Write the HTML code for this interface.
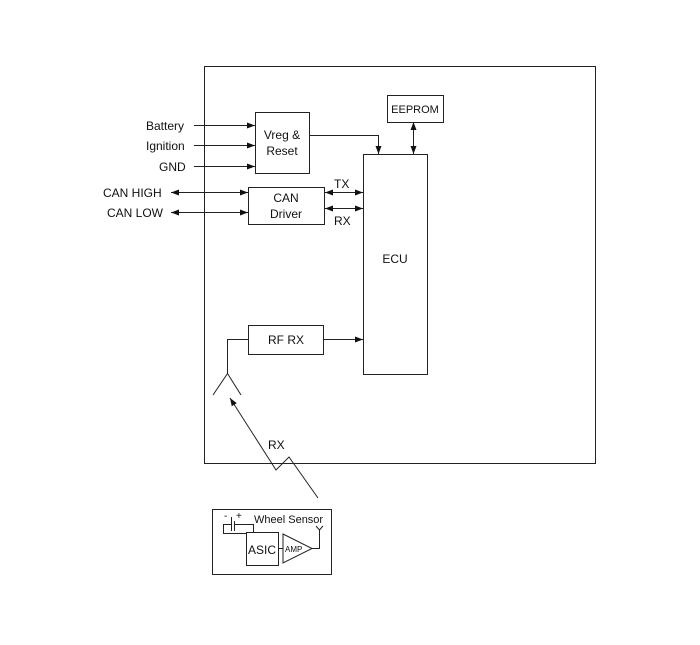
<!DOCTYPE html>
<html><head><style>body{margin:0;background:#fff}svg text{font-family:"Liberation Sans",sans-serif;fill:#111}</style></head>
<body>
<svg width="700" height="640" viewBox="0 0 700 640" xmlns="http://www.w3.org/2000/svg">
<defs><marker id="a" markerWidth="8" markerHeight="6" refX="8" refY="3" orient="auto" markerUnits="userSpaceOnUse"><path d="M0,0 L8,3 L0,6z" fill="#111"/></marker></defs>
<g fill="none" stroke="#222" stroke-width="1">
<rect x="204.5" y="66.5" width="391" height="397"/>
<rect x="387.5" y="95.5" width="56" height="27"/>
<rect x="255.5" y="112.5" width="54" height="61"/>
<rect x="363.5" y="154.5" width="64" height="220"/>
<rect x="248.5" y="187.5" width="76" height="37"/>
<rect x="248.5" y="325.5" width="75" height="29"/>
<rect x="212.5" y="509.5" width="119" height="65"/>
<rect x="246.5" y="532.5" width="32" height="33"/>
<path d="M194,125.5H255" marker-end="url(#a)"/>
<path d="M194,145.5H255" marker-end="url(#a)"/>
<path d="M194,166.5H255" marker-end="url(#a)"/>
<path d="M309,135.5H378.5V154" marker-end="url(#a)"/>
<path d="M413.5,130V154" marker-end="url(#a)"/>
<path d="M413.5,146V122" marker-end="url(#a)"/>
<path d="M200,192.5H248" marker-end="url(#a)"/>
<path d="M220,192.5H171" marker-end="url(#a)"/>
<path d="M200,212.5H248" marker-end="url(#a)"/>
<path d="M220,212.5H171" marker-end="url(#a)"/>
<path d="M340,192.5H363" marker-end="url(#a)"/>
<path d="M345,192.5H325" marker-end="url(#a)"/>
<path d="M340,208.5H363" marker-end="url(#a)"/>
<path d="M345,208.5H325" marker-end="url(#a)"/>
<path d="M323,339.5H363" marker-end="url(#a)"/>
<path d="M248,339.5H227.5V373.5"/>
<path d="M213,395L227.5,373.5L241,395"/>
<path d="M318,498L289,457L276,470L230,398" marker-end="url(#a)"/>
<path d="M283,534L312,548.5L283,563Z"/>
<path d="M278,548.5H283"/>
<path d="M312,548.5H319.5V530"/>
<path d="M316,526L319.5,530L323,526"/>
<path d="M231.5,517V531"/><path d="M234.5,521V531"/>
<path d="M231,524.5H223.5V533.5H246"/><path d="M235,524.5H253.5V532"/>
</g>
<text x="146" y="130" font-size="12">Battery</text>
<text x="146" y="150" font-size="12">Ignition</text>
<text x="159" y="171" font-size="12">GND</text>
<text x="103" y="197" font-size="12">CAN HIGH</text>
<text x="107" y="217" font-size="12">CAN LOW</text>
<text x="415" y="113" font-size="11" text-anchor="middle">EEPROM</text>
<text x="282" y="139" font-size="12" text-anchor="middle">Vreg &amp;</text>
<text x="282" y="155" font-size="12" text-anchor="middle">Reset</text>
<text x="286" y="202" font-size="12" text-anchor="middle">CAN</text>
<text x="286" y="218" font-size="12" text-anchor="middle">Driver</text>
<text x="334" y="188" font-size="12">TX</text>
<text x="334" y="225" font-size="12">RX</text>
<text x="395" y="263" font-size="12" text-anchor="middle">ECU</text>
<text x="286" y="344" font-size="12" text-anchor="middle">RF RX</text>
<text x="268" y="449" font-size="12">RX</text>
<text x="254" y="523" font-size="11">Wheel Sensor</text>
<text x="224" y="519" font-size="10">-</text><text x="236" y="519" font-size="10">+</text>
<text x="262" y="554" font-size="12" text-anchor="middle">ASIC</text>
<text x="285" y="552" font-size="8">AMP</text>
</svg>
</body></html>
